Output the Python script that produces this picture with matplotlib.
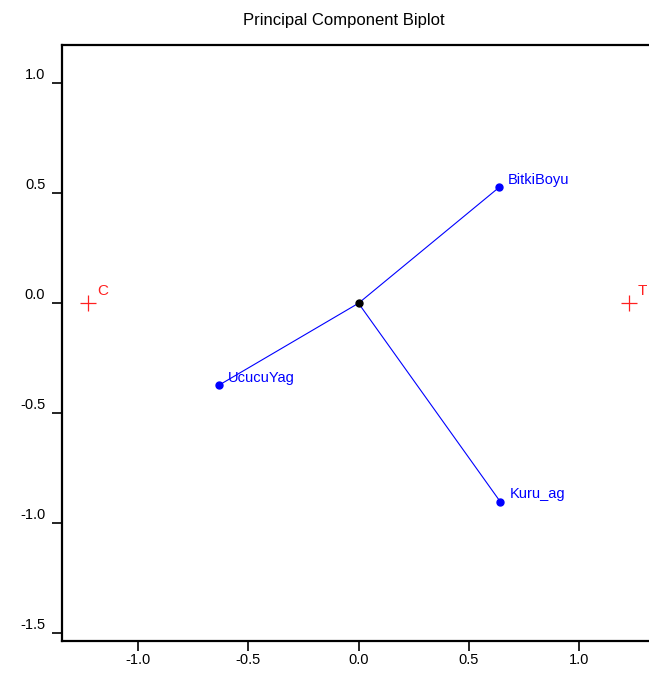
import matplotlib
matplotlib.use("Agg")
import matplotlib.pyplot as plt
from matplotlib.transforms import ScaledTranslation

plt.rcParams['font.family'] = ['Liberation Sans', 'DejaVu Sans']
plt.rcParams['axes.unicode_minus'] = False

# Variable loadings (vectors)
var_names = ["BitkiBoyu", "UcucuYag", "Kuru_ag"]
var_x = [0.638, -0.634, 0.643]
var_y = [0.527, -0.373, -0.902]

# Observation scores
obs_names = ["C", "T"]
obs_x = [-1.225, 1.225]
obs_y = [0.0, 0.0]

xticks = [-1.0, -0.5, 0.0, 0.5, 1.0]
yticks = [-1.5, -1.0, -0.5, 0.0, 0.5, 1.0]

fig = plt.figure(figsize=(6.49, 6.75), dpi=100)
ax = fig.add_axes([62/649, 34.3/675, 608/649, 595.7/675])
ax.set_xlim(-1.345, 1.413)
ax.set_ylim(-1.534, 1.174)

for x, y in zip(var_x, var_y):
    ax.plot([0, x], [0, y], color='blue', lw=0.8, zorder=2)
ax.plot(var_x, var_y, 'o', color='blue', ms=5, zorder=3)
ax.plot([0], [0], 'o', color='black', ms=5, zorder=4)
for n, x, y in zip(var_names, var_x, var_y):
    ax.annotate(n, (x, y), xytext=(6.5, 2.5), textcoords='offset points',
                color='blue', fontsize=10.5, ha='left', va='baseline')

ax.plot(obs_x, obs_y, '+', color='#ff2020', ms=11, mew=0.9, zorder=3)
for n, x, y in zip(obs_names, obs_x, obs_y):
    ax.annotate(n, (x, y), xytext=(6.5, 3.5), textcoords='offset points',
                color='#ff2020', fontsize=11, ha='left', va='bottom')

ax.set_xticks(xticks)
ax.set_yticks(yticks)
ax.set_xticklabels([f"{t:.1f}" for t in xticks])
ax.set_yticklabels([f"{t:.1f}" for t in yticks])
ax.tick_params(direction='out', length=7, width=1.2, labelsize=10.5, pad=2)
ax.tick_params(axis='y', pad=5)
for sp in ax.spines.values():
    sp.set_linewidth(1.6)

off = ScaledTranslation(0, 0.10, fig.dpi_scale_trans)
for lab in ax.get_yticklabels():
    lab.set_transform(lab.get_transform() + off)

fig.text(344/649, 1 - 20/675, "Principal Component Biplot", ha='center', va='center',
         fontsize=12)

fig.savefig("out.png", dpi=100)
